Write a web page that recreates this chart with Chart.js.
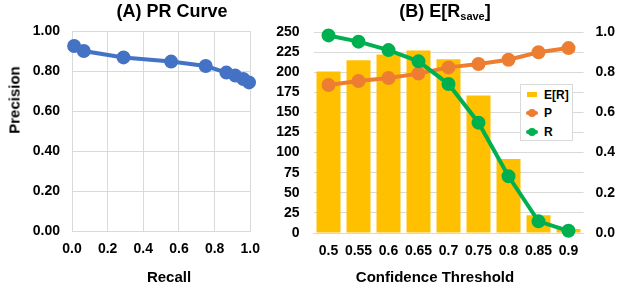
<!DOCTYPE html>
<html>
<head>
<meta charset="utf-8">
<script src="https://cdn.jsdelivr.net/npm/chart.js@4.4.1/dist/chart.umd.min.js"></script>
<style>
  body { margin: 0; width: 619px; height: 290px; position: relative; overflow: hidden; background: #fff;
         font-family: "Liberation Sans", Arial, sans-serif; font-weight: bold; color: #000; }
  .pane { position: absolute; top: 0; height: 290px; }
  .lbl { position: absolute; white-space: nowrap; transform: translate(-50%, -50%); line-height: 1; }
  .title { font-size: 18px; }
  .axis { font-size: 15px; }
  .title sub { font-size: 11px; vertical-align: -3px; line-height: 0; }
  #legend { position: absolute; left: 520px; top: 84px; width: 51px; height: 55px; border: 1px solid #d9d9d9;
            background: #fff; font-size: 12px; }
  #legend div { position: absolute; left: 0; height: 14px; width: 51px; }
  #legend span.t { position: absolute; left: 23px; top: 0; }
  .sw { position: absolute; }
</style>
</head>
<body>

<div class="pane" style="left:0;width:270px"><canvas id="prChart" width="270" height="290"></canvas></div>
<div class="pane" style="left:270px;width:349px"><canvas id="saveChart" width="349" height="290"></canvas></div>

<div class="lbl title" style="left:172px;top:11px">(A) PR Curve</div>
<div class="lbl title" style="left:445px;top:11px">(B) E[R<sub>save</sub>]</div>
<div class="lbl axis" style="left:14px;top:100px;transform:translate(-50%,-50%) rotate(-90deg)">Precision</div>
<div class="lbl axis" style="left:169px;top:276px">Recall</div>
<div class="lbl axis" style="left:435px;top:276px">Confidence Threshold</div>

<div id="legend">
  <div style="top:3px"><span class="sw" style="left:6px;top:4px;width:10px;height:5px;background:#FFC000"></span><span class="t">E[R]</span></div>
  <div style="top:21px"><span class="sw" style="left:5px;top:5px;width:12px;height:4px;background:#ED7D31;border-radius:2px"></span><span class="sw" style="left:7px;top:3px;width:8px;height:8px;background:#ED7D31;border-radius:50%"></span><span class="t">P</span></div>
  <div style="top:40px"><span class="sw" style="left:5px;top:5px;width:12px;height:4px;background:#00B050;border-radius:2px"></span><span class="sw" style="left:7px;top:3px;width:8px;height:8px;background:#00B050;border-radius:50%"></span><span class="t">R</span></div>
</div>

<script>
// (A) PR curve
var prRecall    = [0.012, 0.066, 0.289, 0.556, 0.750, 0.866, 0.916, 0.961, 0.993];
var prPrecision = [0.925, 0.900, 0.868, 0.847, 0.825, 0.792, 0.777, 0.760, 0.743];

// (B) per confidence threshold
var thresholds = ['0.5', '0.55', '0.6', '0.65', '0.7', '0.75', '0.8', '0.85', '0.9'];
var expectedR  = [201, 215, 222, 227, 216, 171, 92, 22, 5];
var precisionP = [0.736, 0.756, 0.771, 0.793, 0.824, 0.841, 0.862, 0.899, 0.920];
var recallR    = [0.983, 0.952, 0.910, 0.854, 0.741, 0.549, 0.282, 0.058, 0.011];

var tickFont = {family: 'Liberation Sans', size: 14, weight: 'bold'};
var gridColor = '#d9d9d9';

var prPoints = prRecall.map(function(r, i) { return {x: r, y: prPrecision[i]}; });

var prChart = new Chart(document.getElementById('prChart'), {
  type: 'line',
  data: {
    datasets: [{
      data: prPoints,
      borderColor: '#4472C4',
      backgroundColor: '#4472C4',
      borderWidth: 4,
      pointRadius: 5,
      pointHoverRadius: 5,
      clip: false
    }]
  },
  options: {
    responsive: false,
    animation: false,
    layout: {padding: {top: 31, right: 11, bottom: 0, left: 0}},
    plugins: {legend: {display: false}, tooltip: {enabled: false}},
    scales: {
      x: {
        type: 'linear', min: 0, max: 1,
        ticks: {stepSize: 0.2, font: tickFont, color: '#000', padding: 10,
                callback: function(v) { return v.toFixed(1); }},
        grid: {color: gridColor, drawTicks: false},
        border: {color: gridColor},
        afterFit: function(s) { s.height = 59; }
      },
      y: {
        min: 0, max: 1,
        ticks: {stepSize: 0.2, font: tickFont, color: '#000', padding: 12,
                callback: function(v) { return v.toFixed(2); }},
        grid: {color: gridColor, drawTicks: false},
        border: {color: gridColor},
        afterFit: function(s) { s.width = 72; }
      }
    }
  }
});

var saveChart = new Chart(document.getElementById('saveChart'), {
  data: {
    labels: thresholds,
    datasets: [
      {type: 'bar', label: 'E[R]', data: expectedR, backgroundColor: '#FFC000', yAxisID: 'y',
       order: 3, categoryPercentage: 1, barPercentage: 0.8},
      {type: 'line', label: 'P', data: precisionP, borderColor: '#ED7D31', backgroundColor: '#ED7D31',
       borderWidth: 4, pointRadius: 5, pointHoverRadius: 5, yAxisID: 'y1', order: 2, clip: false},
      {type: 'line', label: 'R', data: recallR, borderColor: '#00B050', backgroundColor: '#00B050',
       borderWidth: 4, pointRadius: 5, pointHoverRadius: 5, yAxisID: 'y1', order: 1, clip: false}
    ]
  },
  options: {
    responsive: false,
    animation: false,
    layout: {padding: {top: 32, right: 0, bottom: 0, left: 0}},
    plugins: {legend: {display: false}, tooltip: {enabled: false}},
    scales: {
      x: {
        ticks: {font: tickFont, color: '#000', padding: 10, maxRotation: 0, autoSkip: false},
        grid: {display: false, drawTicks: false},
        border: {color: gridColor},
        afterFit: function(s) { s.height = 57; }
      },
      y: {
        position: 'left', min: 0, max: 250,
        ticks: {stepSize: 25, font: tickFont, color: '#000', padding: 14},
        grid: {color: gridColor, drawTicks: false},
        border: {display: false},
        afterFit: function(s) { s.width = 43.5; }
      },
      y1: {
        position: 'right', min: 0, max: 1,
        ticks: {stepSize: 0.2, font: tickFont, color: '#000', padding: 12,
                callback: function(v) { return v.toFixed(1); }},
        grid: {display: false, drawTicks: false},
        border: {display: false},
        afterFit: function(s) { s.width = 35.5; }
      }
    }
  }
});
</script>
</body>
</html>
